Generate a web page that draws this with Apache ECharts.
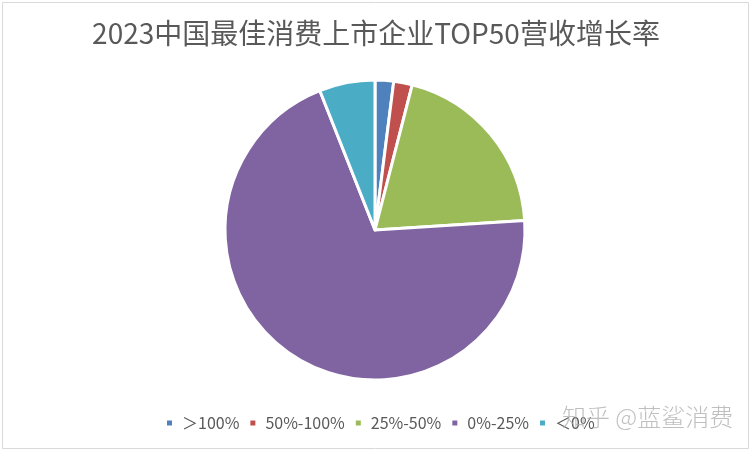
<!DOCTYPE html>
<html><head><meta charset="utf-8">
<script src="https://cdn.jsdelivr.net/npm/echarts@6/dist/echarts.min.js"></script>
<style>html,body{margin:0;padding:0;background:#fff}#c{width:752px;height:452px}</style>
</head><body><div id="c"></div>
<script>
const categories = ['＞100%', '50%-100%', '25%-50%', '0%-25%', '＜0%'];
const counts = [1, 1, 10, 35, 3];
const colors = ['#4F81BD', '#C0504D', '#9BBB59', '#8064A2', '#4BACC6'];
const titleText = '2023中国最佳消费上市企业TOP50营收增长率';
const watermark = '知乎 @蓝鲨消费';

const font = '"Noto Sans CJK SC", "Noto Sans", sans-serif';
const chart = echarts.init(document.getElementById('c'));
chart.setOption({
  animation: false,
  backgroundColor: '#fff',
  color: colors,
  title: {
    text: titleText, left: 'center', top: 14,
    textStyle: { fontFamily: font, fontSize: 28, fontWeight: 'normal', color: '#595959' }
  },
  legend: {
    left: 160, top: 410, itemWidth: 7, itemHeight: 7, itemGap: 9,
    icon: 'rect',
    textStyle: { fontFamily: font, fontSize: 16, color: '#595959', padding: [0, 0, 0, 4] },
    data: categories
  },
  series: [{
    type: 'pie', center: [375, 230], radius: 150, startAngle: 90, clockwise: true,
    label: { show: false }, labelLine: { show: false },
    itemStyle: { borderColor: '#fff', borderWidth: 3 },
    emphasis: { disabled: true },
    data: categories.map((c, i) => ({ name: c, value: counts[i] }))
  }],
  graphic: [
    { type: 'rect', shape: { x: 2.5, y: 2.5, width: 746, height: 446 }, style: { fill: 'none', stroke: '#d9d9d9', lineWidth: 1 }, silent: true },
    { type: 'text', left: 562, top: 405, style: { text: watermark, font: '300 24px ' + font, fill: 'rgba(170,170,170,0.75)' }, z: 100 }
  ]
});
</script></body></html>
